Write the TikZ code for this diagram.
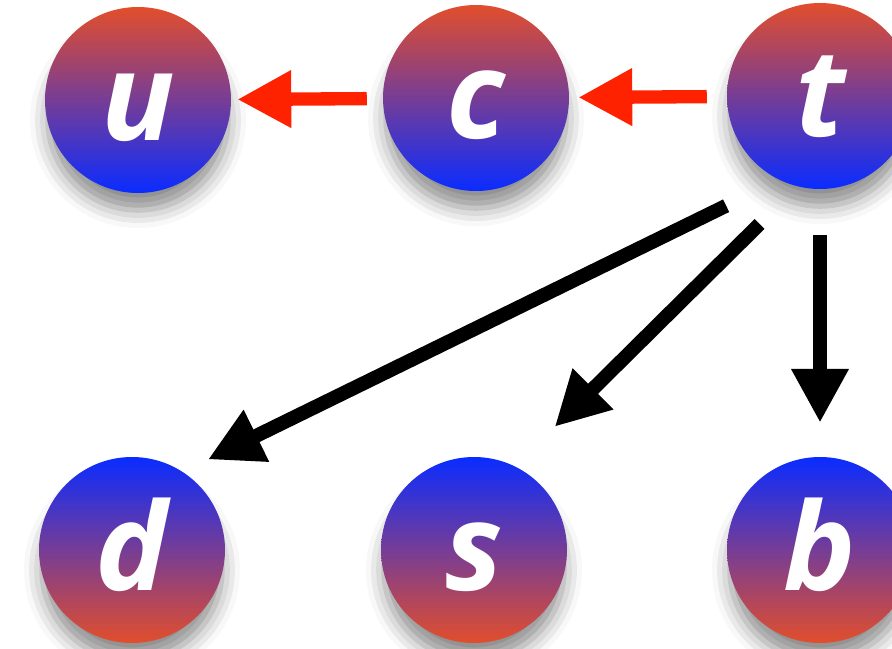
\documentclass[tikz,border=0pt]{standalone}
\usepackage{fontspec}
\setsansfont{Open Sans}
\usepackage{tikz}
\usetikzlibrary{arrows.meta,positioning,shadows.blur}

\definecolor{quarkred}{RGB}{226,78,44}
\definecolor{quarkblue}{RGB}{10,44,255}
\definecolor{arrowred}{RGB}{255,34,0}

\tikzset{
  quark/.style={circle, minimum size=5.58cm, inner sep=0pt, text=white,
    font=\sffamily\bfseries\itshape\fontsize{104}{104}\selectfont,
    text height=2.4cm, text depth=0pt,
    blur shadow={shadow xshift=0pt, shadow yshift=-0.62cm, shadow scale=0.97,
      shadow blur radius=0.55cm, shadow opacity=45}},
  upq/.style={quark, top color=quarkred, bottom color=quarkblue},
  downq/.style={quark, top color=quarkblue, bottom color=quarkred},
  decay/.style={arrowred, line width=0.4cm,
    -{Triangle[length=1.62cm,width=1.62cm]}},
  mix/.style={black, line width=0.42cm,
    -{Triangle[length=1.62cm,width=1.62cm]}}
}

\begin{document}
\begin{tikzpicture}[x=0.03cm, y=-0.03cm]
    \useasboundingbox (0,0) rectangle (892,649);

    % up-type row
    \node[upq] (u) at (138,100) {u};
    \node[upq] (c) at (476,98) {c};
    \node[upq] (t) at (820,96) {t};

    % down-type row
    \node[downq] (d) at (132,550) {d};
    \node[downq] (s) at (474,550) {s};
    \node[downq] (b) at (820,550) {b};

    % red arrows along the top
    \draw[decay, shorten <=0.48cm, shorten >=0.18cm] (c) -- (u);
    \draw[decay, shorten <=0.6cm, shorten >=0.27cm] (t) -- (c);

    % black arrows from t
    \draw[mix, shorten <=1.77cm, shorten >=0.84cm] (t.244) -- (d.57);
    \draw[mix, shorten <=1.6cm, shorten >=1.68cm] (t.256) -- (s.64);
    \draw[mix, shorten <=1.38cm, shorten >=1.02cm] (t.south) -- (b.north);
\end{tikzpicture}
\end{document}
